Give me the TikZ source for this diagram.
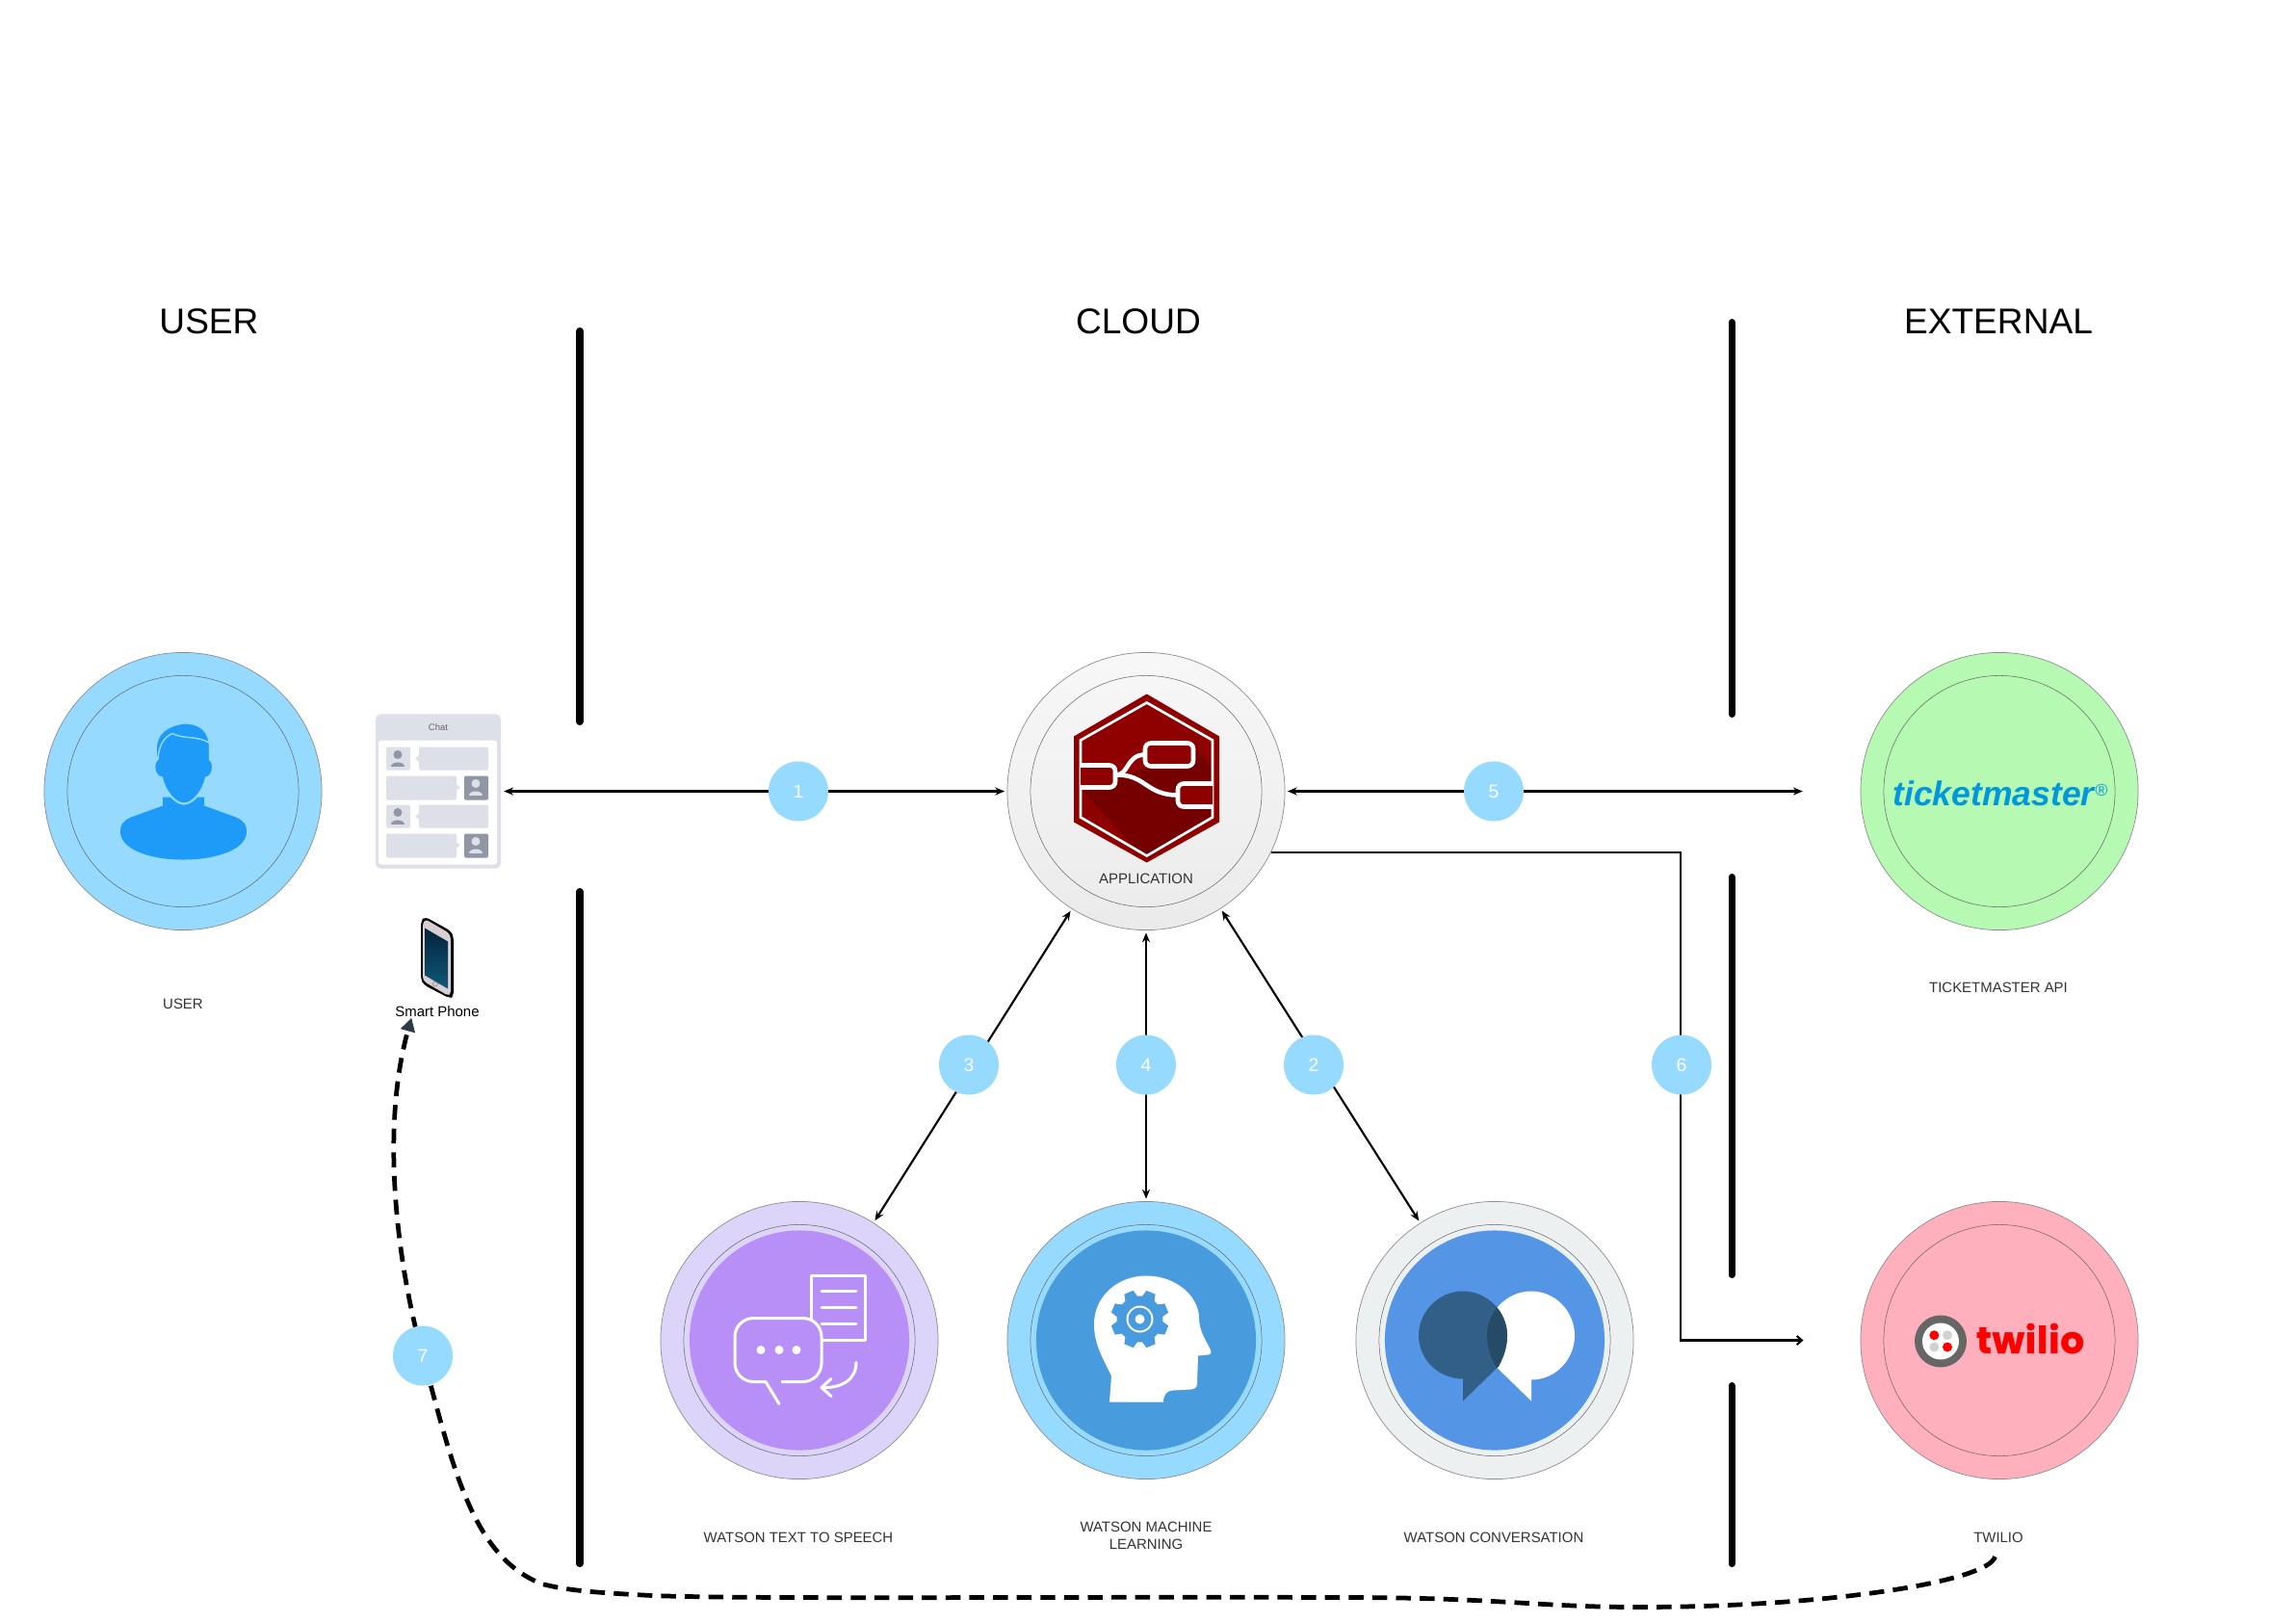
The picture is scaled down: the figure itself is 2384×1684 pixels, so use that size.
\documentclass[tikz,border=0pt]{standalone}
\usepackage{fontspec}
\setmainfont{Liberation Sans}
\newfontfamily\twiliofont[LetterSpace=2,FakeBold=1.2]{Poppins Bold}
\usetikzlibrary{arrows.meta}
\definecolor{skyblue}{HTML}{96DAFF}
\definecolor{userblue}{HTML}{1E9BF8}
\definecolor{chatgrey}{HTML}{DDDFE9}
\definecolor{facegrey}{HTML}{9096A3}
\definecolor{phoneface}{HTML}{D9CFD3}
\definecolor{screentop}{HTML}{04213B}
\definecolor{screenbottom}{HTML}{0F5A78}
\definecolor{nodered}{HTML}{8F0000}
\definecolor{nodereddark}{HTML}{740000}
\definecolor{ttslight}{HTML}{DCD4F9}
\definecolor{ttsfill}{HTML}{B88FF7}
\definecolor{mlfill}{HTML}{489BDC}
\definecolor{convlight}{HTML}{EDF0F1}
\definecolor{convfill}{HTML}{5595E6}
\definecolor{bubbledark}{HTML}{325F87}
\definecolor{bubbleover}{HTML}{264B66}
\definecolor{ticketgreen}{HTML}{B5F9B3}
\definecolor{ticketblue}{HTML}{0098DA}
\definecolor{twiliopink}{HTML}{FFB0BC}
\definecolor{tipslate}{HTML}{2B3A45}
\tikzset{
  disc/.style={circle,draw=black!45,line width=0.2pt,minimum size=2.88cm,inner sep=0pt},
  ring/.style={circle,draw=black!60,line width=0.15pt,minimum size=2.4cm,inner sep=0pt},
  core/.style={circle,minimum size=2.28cm,inner sep=0pt},
  badge/.style={circle,fill=skyblue,text=white,minimum size=0.62cm,inner sep=0pt,font=\fontsize{5.5}{6}\selectfont},
  caption/.style={inner sep=0pt,align=center,text=black!80,font=\fontsize{4.25}{5.1}\selectfont},
  heading/.style={inner sep=0pt,font=\fontsize{10.55}{12}\selectfont},
  wall/.style={line width=2pt,line cap=round},
  flow/.style={line width=0.6pt,<->},
  bubble/.style={fill=chatgrey,rounded corners=0.4pt},
  iconline/.style={draw=white,line width=0.85pt,line cap=round,line join=round},
}
% one little person of the chat window
\newcommand{\chatface}[3]{
  \fill[#3] (#1,#2-4) circle (4.5);
  \fill[#3] (#1-7,#2+8) .. controls (#1-7,#2+2) and (#1+7,#2+2) .. (#1+7,#2+8) -- cycle;
}
\newcommand{\rightbubble}{(1590,1339) .. controls (1615,1339) and (1635,1360) .. (1635,1385)
  .. controls (1635,1410) and (1615,1431) .. (1590,1431) -- (1590,1453) -- (1553,1417)
  .. controls (1548,1408) and (1544,1397) .. (1544,1385)
  .. controls (1544,1360) and (1565,1339) .. (1590,1339) -- cycle}
\newcommand{\leftbubble}{(1519,1339) .. controls (1544,1339) and (1565,1360) .. (1565,1385)
  .. controls (1565,1397) and (1561,1408) .. (1556,1417) -- (1519,1453) -- (1519,1430)
  .. controls (1494,1430) and (1473,1410) .. (1473,1385)
  .. controls (1473,1360) and (1494,1339) .. (1519,1339) -- cycle}
\begin{document}
\begin{tikzpicture}[x=0.01cm,y=-0.01cm,>={Stealth[length=2.8pt,width=2.3pt]}]
  \useasboundingbox (0,-1.5) rectangle (2384,1682.5);

  % headings and walls
  \node[heading] (userhead) at (217,332) {USER};
  \node[heading] (cloudhead) at (1182,332) {CLOUD};
  \node[heading] (externalhead) at (2075,332) {EXTERNAL};
  \foreach \x/\ya/\yb in {602/342/748, 602/924/1622, 1798/333/740, 1798/909/1322, 1798/1437/1622}
    \draw[wall] (\x,\ya) -- (\x,\yb);

  % the big discs
  \node[disc,fill=skyblue] (user) at (190,820) {};
  \node[disc,top color=white!97!black,bottom color=black!8] (app) at (1190,820) {};
  \node[disc,fill=ticketgreen] (ticket) at (2076,820) {};
  \node[disc,fill=ttslight] (tts) at (830,1390) {};
  \node[disc,fill=skyblue] (ml) at (1190,1390) {};
  \node[disc,fill=convlight] (conv) at (1552,1390) {};
  \node[disc,fill=twiliopink] (twilio) at (2076,1390) {};
  \node[core,fill=ttsfill] (ttscore) at (tts) {};
  \node[core,fill=mlfill] (mlcore) at (ml) {};
  \node[core,fill=convfill] (convcore) at (conv) {};
  \foreach \disc in {user,app,ticket,tts,ml,conv,twilio}
    \node[ring] (\disc ring) at (\disc) {};

  % user
  \fill[userblue] (169,826) -- (169,835) -- (136,847) .. controls (127,851) and (125,855) .. (125,862)
    .. controls (125,880) and (155,891) .. (190,891) .. controls (226,891) and (256,880) .. (256,862)
    .. controls (256,855) and (254,851) .. (245,847) -- (212,835) -- (212,826) -- cycle;
  \filldraw[fill=userblue,draw=skyblue,line width=0.6pt] (191,749) .. controls (208,749) and (218,757) .. (218,775) -- (218,787)
    .. controls (223,790) and (222,805) .. (214,806) .. controls (211,820) and (200,833) .. (191,833)
    .. controls (182,833) and (171,820) .. (168,806) .. controls (160,805) and (158,792) .. (163,787)
    .. controls (158,765) and (168,752) .. (191,749) -- cycle;
  \draw[skyblue,line width=0.4pt] (164,787) .. controls (165,772) and (170,764) .. (179,760)
    .. controls (190,766) and (205,762) .. (218,770);

  % chat window
  \node[fill=chatgrey,rounded corners=1.5pt,minimum width=1.3cm,minimum height=1.6cm,inner sep=0pt] (chat) at (455,820) {};
  \fill[white,rounded corners=0.8pt] (393,767) rectangle (516,896);
  \node[inner sep=0pt,text=black!60,font=\fontsize{2.7}{3}\selectfont] (chattitle) at (455,754) {Chat};
  \foreach \ry in {774,834} {
    \fill[bubble] (401,\ry) rectangle (426,\ry+24);
    \fill[bubble] (435,\ry) rectangle (507,\ry+24);
    \fill[chatgrey] (431,\ry+12) -- (435,\ry+9) -- (435,\ry+15) -- cycle;
    \chatface{413}{\ry+12}{facegrey}
  }
  \foreach \ry in {804,864} {
    \fill[bubble] (401,\ry) rectangle (474,\ry+25);
    \fill[chatgrey] (478,\ry+12) -- (474,\ry+9) -- (474,\ry+15) -- cycle;
    \fill[facegrey,rounded corners=0.4pt] (482,\ry) rectangle (507,\ry+25);
    \chatface{494}{\ry+12}{chatgrey}
  }

  % phone
  \fill[black,rounded corners=1.2pt] (437,955) -- (441,950) -- (468,965) -- (471,971) -- (471,1033) -- (467,1035) -- (440,1021) -- (437,1015) -- cycle;
  \fill[phoneface,rounded corners=0.8pt] (439,957) -- (442,953) -- (466,967) -- (468,972) -- (468,1030) -- (465,1032) -- (441,1018) -- (439,1014) -- cycle;
  \shade[top color=screentop,bottom color=screenbottom] (441,962) -- (465,976) -- (465,1025) -- (441,1011) -- cycle;
  \draw[black!60,line width=0.1pt] (452,1020) circle (2.5);

  % node-red logo
  \fill[nodered] (1190.7,719) -- (1266,763) -- (1266,852) -- (1190.7,894) -- (1115,852) -- (1115,763) -- cycle;
  \fill[nodereddark] (1123,819) -- (1183,883) -- (1191,887) -- (1259,847) -- (1259,795) -- (1237,772) -- (1195,794) -- (1165,805) -- (1155,818) -- cycle;
  \draw[white,line width=0.75pt] (1190.7,728) -- (1259,767) -- (1259,847) -- (1190.7,887) -- (1122,847) -- (1122,767) -- cycle;
  \draw[white,line width=1.3pt] (1160,803) .. controls (1172,802) and (1170,782) .. (1189,782);
  \draw[white,line width=1.3pt] (1160,803) .. controls (1190,803) and (1190,824) .. (1223,824);
  \filldraw[fill=nodered,draw=white,line width=1.3pt,rounded corners=1.7pt] (1122,793) -- (1158,793) -- (1158,816) -- (1122,816);
  \filldraw[fill=nodered,draw=white,line width=1.3pt,rounded corners=1.7pt] (1189,770) rectangle (1239,794);
  \filldraw[fill=nodered,draw=white,line width=1.3pt,rounded corners=1.7pt] (1259,812) -- (1223,812) -- (1223,836) -- (1259,836);
  \node[caption] (applabel) at (1190,911) {APPLICATION};

  % text to speech
  \draw[iconline] (842,1323) rectangle (898,1390);
  \foreach \ly in {1339,1356,1373}
    \draw[iconline] (853,\ly) -- (889,\ly);
  \filldraw[fill=ttsfill,draw=white,line width=0.85pt,rounded corners=5.5pt] (763,1367) rectangle (853,1433);
  \fill[ttsfill] (796,1430) rectangle (811,1436);
  \draw[iconline] (795,1433) -- (809,1456);
  \foreach \dx in {790,809,827}
    \fill[white] (\dx,1400) circle (4.5);
  \draw[iconline] (889,1413) .. controls (889,1430) and (875,1440) .. (853,1439);
  \draw[iconline] (863,1430) -- (853,1439) -- (863,1448);

  % machine learning
  \fill[white] (1152,1454) -- (1154,1427) .. controls (1146,1410) and (1136,1395) .. (1136,1373)
    .. controls (1136,1345) and (1160,1323) .. (1190,1323) .. controls (1222,1323) and (1245,1345) .. (1245,1367)
    .. controls (1245,1380) and (1252,1390) .. (1257,1400) .. controls (1258,1403) and (1257,1405) .. (1254,1405)
    -- (1244,1406) -- (1243,1435) .. controls (1243,1439) and (1240,1441) .. (1236,1441)
    -- (1218,1442) .. controls (1212,1442) and (1208,1446) .. (1208,1454) -- cycle;
  \foreach \a in {22.5,67.5,...,337.5}
    \fill[mlfill,rotate around={\a:(1183.5,1368)}] (1178.5,1338) -- (1188.5,1338) -- (1191.5,1350) -- (1175.5,1350) -- cycle;
  \fill[mlfill] (1183.5,1368) circle (24);
  \fill[white] (1183.5,1368) circle (14);
  \fill[mlfill] (1183.5,1368) circle (12);
  \fill[white] (1183.5,1368) circle (5);

  % conversation
  \fill[white] \rightbubble;
  \fill[bubbledark] \leftbubble;
  \begin{scope}
    \clip \leftbubble;
    \fill[bubbleover] \rightbubble;
  \end{scope}

  % logos
  \node[inner sep=0pt,text=ticketblue,font=\fontsize{10.1}{12}\bfseries\itshape\selectfont] (ticketlogo) at (2070,822) {ticketmaster};
  \node[inner sep=0pt,text=ticketblue,font=\fontsize{5}{6}\selectfont] (ticketmark) at (2182,819) {®};
  \fill[black!60] (2015,1391) circle (27);
  \fill[white] (2015,1391) circle (19);
  \fill[red] (2008.3,1384.7) circle (5) (2022,1397) circle (5);
  \fill[black!18] (2022,1384.7) circle (5) (2008.3,1397) circle (5);
  \node[inner sep=0pt,text=red,font=\twiliofont\fontsize{11}{12}\selectfont] (twiliologo) at (2108,1388) {twilio};

  % labels
  \node[caption] (userlabel) at (190,1041) {USER};
  \node[caption,text=black] (phonelabel) at (454,1049) {Smart Phone};
  \node[caption] (ticketlabel) at (2075,1024) {TICKETMASTER API};
  \node[caption] (ttslabel) at (829,1595) {WATSON TEXT TO SPEECH};
  \node[caption] (mllabel) at (1190,1593) {WATSON MACHINE\\LEARNING};
  \node[caption] (convlabel) at (1551,1595) {WATSON CONVERSATION};
  \node[caption] (twiliolabel) at (2075,1595) {TWILIO};

  % connectors
  \coordinate (turn) at (1745,1390);
  \draw[flow,shorten <=0.7pt,shorten >=0.7pt] (chat) -- (app);
  \draw[flow,shorten <=0.7pt,shorten >=17pt] (app) -- (ticket);
  \draw[flow,shorten <=0.7pt,shorten >=0.7pt] (app) -- (tts);
  \draw[flow,shorten <=0.7pt,shorten >=0.7pt] (app) -- (ml);
  \draw[flow,shorten <=0.7pt,shorten >=0.7pt] (app) -- (conv);
  \draw[line width=0.6pt,-{Straight Barb[length=1.5pt,width=2.6pt]},shorten >=16.8pt] (app.-26.5) -| (turn) -- (twilio);
  \draw[line width=1.35pt,dash pattern=on 4.4pt off 2.6pt,-{Triangle[length=4pt,width=4.2pt,fill=tipslate,color=tipslate]},shorten <=4pt]
    (twiliolabel.south) .. controls (2065,1640) and (1900,1667) .. (1700,1667)
    .. controls (1600,1667) and (1550,1657) .. (1400,1657)
    .. controls (1100,1656) and (780,1659) .. (677,1655)
    .. controls (620,1652) and (590,1650) .. (563,1643)
    .. controls (490,1615) and (470,1520) .. (439,1406)
    .. controls (412,1310) and (395,1170) .. ([xshift=5pt]phonelabel.south west);

  % badges
  \node[badge] (one) at (829,820) {1};
  \node[badge] (two) at (1364,1104) {2};
  \node[badge] (three) at (1006,1104) {3};
  \node[badge] (four) at (1190,1104) {4};
  \node[badge] (five) at (1551,820) {5};
  \node[badge] (six) at (1746,1104) {6};
  \node[badge] (seven) at (439,1406) {7};
\end{tikzpicture}
\end{document}
